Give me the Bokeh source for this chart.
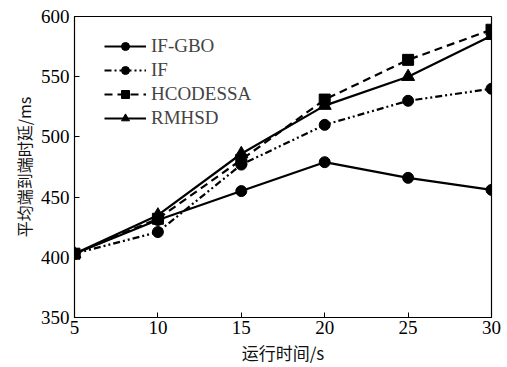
from bokeh.plotting import figure
from bokeh.models import Range1d, Legend, LegendItem, FixedTicker
from bokeh.embed import file_html
from bokeh.resources import INLINE

x = [5, 10, 15, 20, 25, 30]
if_gbo = [403, 431, 455, 479, 466, 456]
if_ = [403, 421, 477, 510, 530, 540]
hcodessa = [403, 432, 481, 531, 564, 589]
rmhsd = [403, 435, 486, 526, 550, 584]
names = ["IF-GBO", "IF", "HCODESSA", "RMHSD"]
x_ticks = [5, 10, 15, 20, 25, 30]
y_ticks = [350, 400, 450, 500, 550, 600]

p = figure(width=507, height=367, output_backend="svg", toolbar_location=None,
           x_range=Range1d(5, 30), y_range=Range1d(350, 600),
           min_border_left=74, min_border_top=16, min_border_right=16, min_border_bottom=48)
p.xgrid.visible = False
p.ygrid.visible = False
p.outline_line_color = "black"
p.outline_line_width = 1.2
p.background_fill_color = "white"

serif = "Liberation Serif"
for ax in (p.xaxis[0], p.yaxis[0]):
    ax.major_tick_in = 5
    ax.major_tick_out = 0
    ax.minor_tick_line_color = None
    ax.axis_line_color = "black"
    ax.major_label_text_font = serif
    ax.major_label_text_font_size = "19px"
    ax.major_label_text_color = "black"
    ax.axis_label_text_font = "Noto Sans CJK SC"
    ax.axis_label_text_font_style = "normal"
    ax.axis_label_text_color = "#111111"
p.xaxis.axis_label_text_font_size = "17px"
p.yaxis.axis_label_text_font_size = "16px"
p.xaxis.ticker = FixedTicker(ticks=x_ticks)
p.yaxis.ticker = FixedTicker(ticks=y_ticks)
p.xaxis.axis_label = "运行时间/s"
p.yaxis.axis_label = "平均端到端时延/ms"
p.xaxis.major_label_standoff = 3
p.xaxis.axis_label_standoff = 3
p.yaxis.major_label_standoff = 5
p.yaxis.axis_label_standoff = 2

series = [if_gbo, if_, hcodessa, rmhsd]
dashes = ["solid", "7 3 2 3 2 3", "8 5", "solid"]
markers = ["circle", "circle", "square", "triangle"]
sizes = [11, 11, 11, 13]
items = []
for name, ys, d, m, s in zip(names, series, dashes, markers, sizes):
    l = p.line(x, ys, line_color="black", line_width=2.2, line_dash=d)
    sc = p.scatter(x, ys, marker=m, size=s, fill_color="black", line_color="black")
    items.append(LegendItem(label=name, renderers=[l, sc]))

leg = Legend(items=items, location=(30, 188), border_line_color=None,
             background_fill_alpha=0, label_text_font=serif, label_text_font_size="19px",
             label_height=20, glyph_height=20, glyph_width=42, spacing=2, margin=0, padding=6,
             label_standoff=5)
p.add_layout(leg)

open("out.html", "w").write(file_html(p, INLINE))
